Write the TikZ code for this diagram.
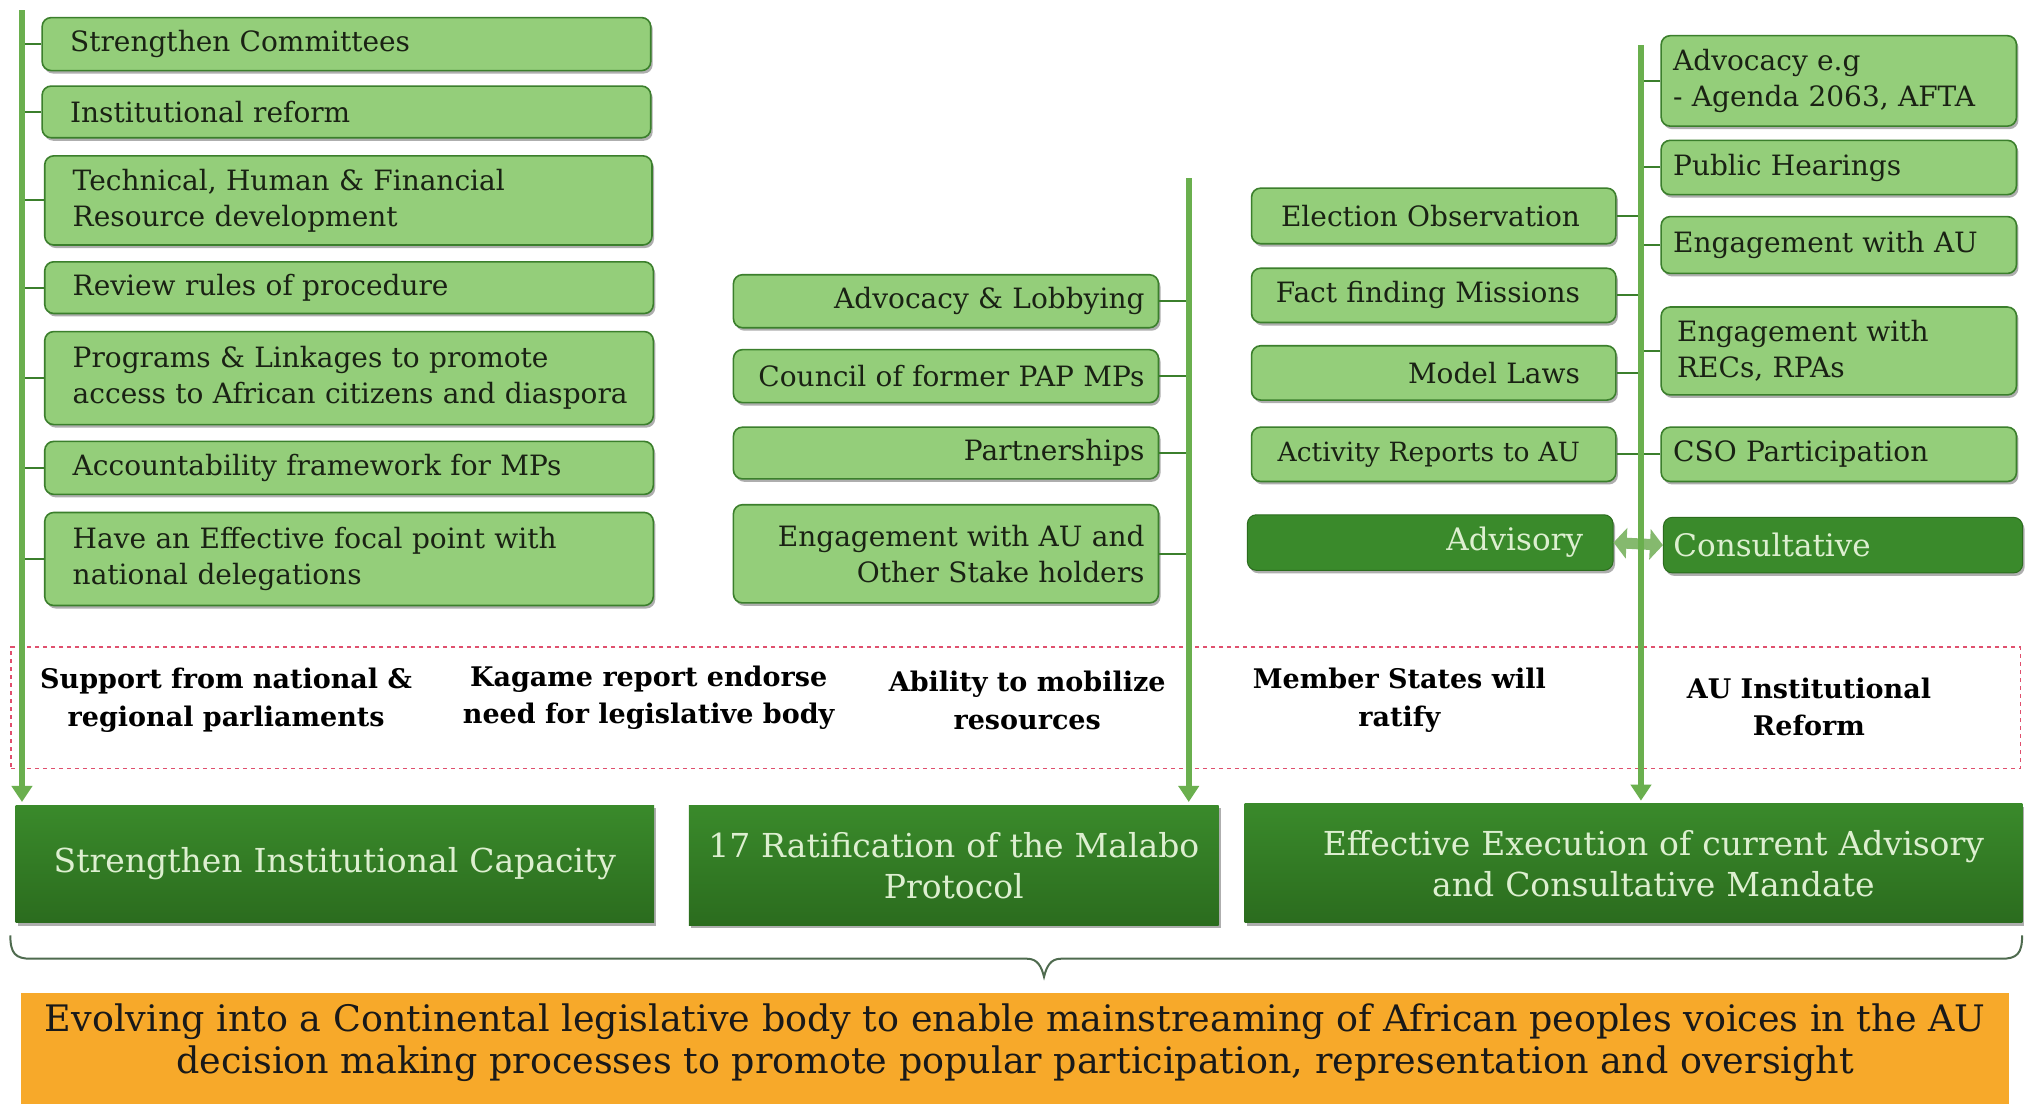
\documentclass[tikz,border=0pt]{standalone}
\usepackage{fontspec}
\setmainfont{DejaVu Serif}
\usetikzlibrary{arrows.meta,shadows,calc}
\definecolor{lgreen}{HTML}{94CE7A}
\definecolor{bgreen}{HTML}{3B7F2C}
\definecolor{dgreen}{HTML}{3A8A2B}
\definecolor{dgreenb}{HTML}{2B6C1E}
\definecolor{spinec}{HTML}{6AAF4E}
\definecolor{txtlight}{HTML}{DDEFD0}
\definecolor{dashc}{HTML}{E0506E}
\definecolor{orng}{HTML}{F7A92A}
\definecolor{bracec}{HTML}{4F6B4F}
\definecolor{txtdark}{HTML}{1A2214}
\newcommand\gbox[8]{%
  \pgfmathsetmacro\gbw{(#5-#3)*1.2921}%
  \pgfmathsetmacro\gbh{(#6-#4)*1.2921}%
  \pgfmathsetmacro\gtw{\gbw-2*#7}%
  \node[#2, anchor=north west, inner xsep=#7pt, text width=\gtw pt, minimum width=\gbw pt, minimum height=\gbh pt] (#1) at (#3,#4) {#8};%
}
\newcommand\rpad{\hspace*{28pt}}
\tikzset{
  shad/.style={drop shadow={shadow xshift=2pt,shadow yshift=-3pt,opacity=0.45,fill=black!70}},
  lbox/.style={rounded corners=9pt, fill=lgreen, draw=bgreen, line width=1.6pt, shad, font=\fontsize{28}{36}\selectfont, text=txtdark, inner ysep=2pt},
  dbox/.style={rounded corners=9pt, fill=dgreen, draw=dgreenb, line width=1pt, shad, font=\fontsize{31}{36}\selectfont, text=txtlight, inner ysep=2pt},
  bigbox/.style={top color=dgreen, bottom color=dgreenb, draw=none, shad, font=\fontsize{33}{41}\selectfont, text=txtlight, align=center, inner ysep=2pt},
  lbl/.style={font=\fontsize{27}{37.5}\bfseries\selectfont, align=center, text=black},
  spineline/.style={draw=spinec, line width=6pt, -{Triangle[width=20pt,length=16pt]}, shorten >=3pt},
  conn/.style={draw=bgreen, line width=2pt},
  dashbox/.style={draw=dashc, line width=1.8pt, dash pattern=on 4pt off 4pt, inner ysep=0pt},
  orangebox/.style={fill=orng, draw=none, inner ysep=0pt},
  goaltxt/.style={font=\fontsize{36.5}{42}\selectfont, align=center, text=black!90}
}
\begin{document}
\begin{tikzpicture}[x=1.2921pt,y=-1.2921pt]
\useasboundingbox (0,0) rectangle (1568,854);
\fill[white] (0,0) rectangle (1568,854);

% spine anchor coordinates
\coordinate (spL) at (17,8);
\coordinate (spM) at (920,138);
\coordinate (spR) at (1270,35);

% left column
\gbox{L1}{lbox, align=left}{32}{13}{503}{54}{28}{Strengthen Committees}
\gbox{L2}{lbox, align=left}{32}{66}{503}{106}{28}{Institutional reform}
\gbox{L3}{lbox, align=left}{34}{120}{504}{189}{28}{Technical, Human \& Financial\\Resource development}
\gbox{L4}{lbox, align=left}{34}{202}{505}{242}{28}{Review rules of procedure}
\gbox{L5}{lbox, align=left}{34}{256}{505}{328}{28}{Programs \& Linkages to promote\\\mbox{access to African citizens and diaspora}}
\gbox{L6}{lbox, align=left}{34}{341}{505}{382}{28}{Accountability framework for MPs}
\gbox{L7}{lbox, align=left}{34}{396}{505}{468}{28}{Have an Effective focal point with\\national delegations}

% middle column
\gbox{M1}{lbox, align=right}{567}{212}{896}{253}{14}{Advocacy \& Lobbying}
\gbox{M2}{lbox, align=right}{567}{270}{896}{311}{14}{Council of former PAP MPs}
\gbox{M3}{lbox, align=right}{567}{330}{896}{370}{14}{Partnerships}
\gbox{M4}{lbox, align=right}{567}{390}{896}{466}{14}{Engagement with AU and\\Other Stake holders}

% right-middle column
\gbox{R1}{lbox, align=right}{968}{145}{1250}{188}{8}{Election Observation\rpad}
\gbox{R2}{lbox, align=right}{968}{207}{1250}{249}{8}{Fact finding Missions\rpad}
\gbox{R3}{lbox, align=right}{968}{267}{1250}{309}{8}{Model Laws\rpad}
\gbox{R4}{lbox, align=right, font=\fontsize{26.5}{36}\selectfont}{968}{330}{1250}{372}{8}{\mbox{Activity Reports to AU}\rpad}
\gbox{ADV}{dbox, align=right}{965}{398}{1248}{441}{30}{Advisory}

% right column
\gbox{RR1}{lbox, align=left}{1285}{27}{1560}{97}{12}{Advocacy e.g\\- Agenda 2063, AFTA}
\gbox{RR2}{lbox, align=left}{1285}{108}{1560}{150}{12}{Public Hearings}
\gbox{RR3}{lbox, align=left}{1285}{167}{1560}{211}{12}{Engagement with AU}
\gbox{RR4}{lbox, align=left}{1285}{237}{1560}{305}{16}{Engagement with\\RECs, RPAs}
\gbox{RR5}{lbox, align=left}{1285}{330}{1560}{372}{12}{CSO Participation}
\gbox{CON}{dbox, align=left}{1287}{400}{1565}{443}{10}{Consultative}

% double arrow between Advisory and Consultative
\draw[draw=lgreen!90!black, line width=11pt, {Triangle[width=30pt,length=13pt]}-{Triangle[width=30pt,length=13pt]}] (ADV.east) -- (CON.west);

% dashed conditions box
\gbox{DSH}{dashbox}{8}{500}{1563}{594}{0}{}
\node[lbl] (T1) at (175,542) {Support from national \&\\regional parliaments};
\node[lbl] (T2) at (502,540) {Kagame report endorse\\need for legislative body};
\node[lbl] (T3) at (795,542) {Ability to mobilize\\resources};
\node[lbl] (T4) at (1083,542) {Member States will\\ratify};
\node[lbl] (T5) at (1400,547) {AU Institutional\\Reform};

% bottom outcome boxes
\gbox{B1}{bigbox}{12}{623}{506}{714}{10}{Strengthen Institutional Capacity}
\gbox{B2}{bigbox}{533}{623}{943}{716}{10}{17 Ratification of the Malabo\\Protocol}
\gbox{B3}{bigbox}{963}{622}{1565}{714}{10}{\hspace*{40pt}Effective Execution of current Advisory\\\hspace*{40pt}and Consultative Mandate}

% connectors
\foreach \n in {L1,L2,L3,L4,L5,L6,L7} \draw[conn] (\n.west) -- (\n.west -| spL);
\foreach \n in {M1,M2,M3,M4} \draw[conn] (\n.east) -- (\n.east -| spM);
\foreach \n in {R1,R2,R3,R4} \draw[conn] (\n.east) -- (\n.east -| spR);
\foreach \n in {RR1,RR2,RR3,RR4,RR5} \draw[conn] (\n.west) -- (\n.west -| spR);

% spines
\draw[spineline] (spL) -- (spL |- B1.north);
\draw[spineline] (spM) -- (spM |- B2.north);
\draw[spineline] (spR) -- (spR |- B3.north);

% brace
\draw[bracec, line width=2pt] (8,724) .. controls (8,738) and (12,742) .. (24,742) -- (795,742) .. controls (803,742) and (806,748) .. (808,756) .. controls (810,748) and (813,742) .. (821,742) -- (1549,742) .. controls (1561,742) and (1565,738) .. (1565,724);

% goal box
\gbox{GOAL}{orangebox}{16}{768}{1555}{862}{0}{}
\node[goaltxt] (GT) at ($(GOAL.center)+(0,-8)$) {Evolving into a Continental legislative body to enable mainstreaming of African peoples voices in the AU\\decision making processes to promote popular participation, representation and oversight};
\end{tikzpicture}
\end{document}
